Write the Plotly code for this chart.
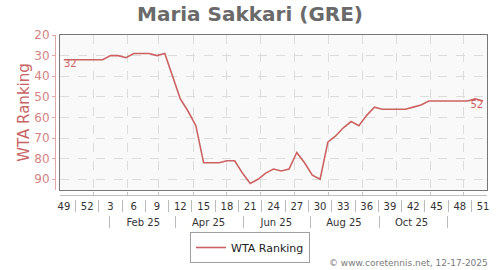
import pandas as pd
import plotly.graph_objects as go

# ---- data ----
week_start = pd.date_range("2024-12-02", periods=55, freq="7D")  # ISO weeks 49/2024 .. 51/2025 (Mondays)
ranking = [32, 32, 32, 32, 32, 32, 30, 30, 31, 29,
           29, 29, 30, 29, 40, 51, 57, 64, 82, 82,
           82, 81, 81, 87, 92, 90, 87, 85, 86, 85,
           77, 82, 88, 90, 72, 69, 65, 62, 64, 59,
           55, 56, 56, 56, 56, 55, 54, 52, 52, 52,
           52, 52, 52, 51, 52]
series_name = "WTA Ranking"
title_text = "Maria Sakkari (GRE)"
footer_text = "© www.coretennis.net, 12-17-2025"
month_labels = ["Feb 25", "Apr 25", "Jun 25", "Aug 25", "Oct 25"]
month_label_dates = ["2025-02-15", "2025-04-15", "2025-06-15", "2025-08-15", "2025-10-15"]
month_sep_dates = ["2025-01-16", "2025-03-16", "2025-05-16", "2025-07-16", "2025-09-16", "2025-11-16"]
y_ticks = [20, 30, 40, 50, 60, 70, 80, 90]

# ---- derived ----
half_week = pd.Timedelta(days=3.5)
week_label_pos = [d + half_week for d in week_start[::3]]
week_label_txt = [str(d.isocalendar()[1]) for d in week_start[::3]]
week_sep_pos = list(week_start[2::3])
xr = [week_start[0], week_start[-1] + pd.Timedelta(days=7)]
yr = [95.2, 20]

LINE = "#cc6262"
TICKC = "#d38383"
FONT = "DejaVu Sans"

labels = [""] * len(ranking)
labels[0] = str(ranking[0])
labels[-1] = str(ranking[-1])
tpos = ["bottom right"] + ["bottom center"] * (len(ranking) - 2) + ["bottom left"]

fig = go.Figure()
fig.add_trace(go.Scatter(
    x=week_start, y=ranking, mode="lines+text", name=series_name,
    xperiod=7 * 24 * 3600 * 1000, xperiod0=week_start[0], xperiodalignment="middle",
    line=dict(color=LINE, width=1.6), text=labels, textposition=tpos,
    textfont=dict(color=LINE, size=10, family=FONT), cliponaxis=False,
    hoverinfo="x+y",
))
# dummy traces to register extra axes
for xa, ya in [("x2", "y"), ("x3", "y"), ("x4", "y"), ("x", "y2")]:
    fig.add_trace(go.Scatter(x=[], y=[], xaxis=xa, yaxis=ya, showlegend=False, hoverinfo="skip"))

PB = 270  # paper bottom in px
PH = PB - 35


def py(px):
    return (PB - px) / PH


L = 50
PW = 487 - L


def pxr(px):
    return (px - L) / PW


fig.update_layout(
    width=500, height=270,
    margin=dict(l=L, r=500 - 487, t=35, b=270 - PB, autoexpand=False),
    paper_bgcolor="white", plot_bgcolor="#f9f9f9",
    font=dict(family=FONT, size=10, color="#444"),
    title=dict(text=f"<b>{title_text}</b>", x=0.5, xanchor="center", xref="container",
               y=1 - 13.5 / 270, yref="container", yanchor="middle",
               font=dict(size=20, color="#6a6a6a", family=FONT)),
    showlegend=True,
    legend=dict(orientation="h", x=pxr(250), xanchor="center", y=py(247.5), yanchor="middle",
                bordercolor="#a0a0a0", borderwidth=1, bgcolor="white",
                font=dict(size=11, color="#222", family=FONT)),
    xaxis=dict(type="date", range=xr, domain=[pxr(60), 1], anchor="y",
               showline=True, mirror=True, linecolor="#777", linewidth=1,
               tickmode="linear", tick0="2025-01-01", dtick="M1",
               showgrid=True, gridcolor="#dcdcdc", griddash="dash", gridwidth=1,
               ticks="", showticklabels=False, zeroline=False),
    xaxis2=dict(type="date", range=xr, domain=[pxr(60), 1], overlaying="x",
                anchor="free", position=py(195),
                showline=True, linecolor="#c0c0c0", linewidth=1,
                tickmode="linear", tick0="2025-01-01", dtick="M1",
                ticks="inside", ticklen=3, tickcolor="#c0c0c0",
                showgrid=False, showticklabels=False, zeroline=False),
    xaxis3=dict(type="date", range=xr, domain=[pxr(60), 1], overlaying="x",
                anchor="free", position=py(199),
                showline=False, showgrid=False, zeroline=False,
                tickmode="array", tickvals=week_label_pos, ticktext=week_label_txt,
                ticks="", tickfont=dict(size=10, color="#333", family=FONT),
                minor=dict(tickmode="array", tickvals=week_sep_pos, ticks="outside",
                           ticklen=12, tickcolor="#bbbbbb", tickwidth=1, showgrid=False)),
    xaxis4=dict(type="date", range=xr, domain=[pxr(60), 1], overlaying="x",
                anchor="free", position=py(215),
                showline=False, showgrid=False, zeroline=False,
                tickmode="array", tickvals=month_label_dates, ticktext=month_labels,
                ticks="", tickfont=dict(size=10, color="#333", family=FONT),
                minor=dict(tickmode="array", tickvals=month_sep_dates, ticks="outside",
                           ticklen=12, tickcolor="#bbbbbb", tickwidth=1, showgrid=False)),
    yaxis=dict(range=yr, domain=[py(190), 1], anchor="x",
               showline=True, mirror=True, linecolor="#777", linewidth=1,
               tickmode="array", tickvals=y_ticks,
               showgrid=True, gridcolor="#dcdcdc", griddash="dash",
               ticks="", showticklabels=False, zeroline=False),
    yaxis2=dict(range=yr, domain=[py(190), 1], overlaying="y",
                anchor="free", position=pxr(55), side="left",
                showline=True, linecolor="#e2a8a8", linewidth=1,
                tickmode="array", tickvals=y_ticks,
                ticks="outside", ticklen=3, tickcolor="#e2a8a8",
                tickfont=dict(size=12, color=TICKC, family=FONT),
                showgrid=False, zeroline=False,
                title=dict(text=series_name, font=dict(size=15, color="#c86464", family=FONT), standoff=0)),
    annotations=[dict(text=footer_text, xref="paper", yref="paper",
                      x=pxr(490), xanchor="right", y=py(263), yanchor="middle",
                      showarrow=False, font=dict(size=9, color="#7a7a7a", family=FONT))],
)

fig.write_html("out.html")
